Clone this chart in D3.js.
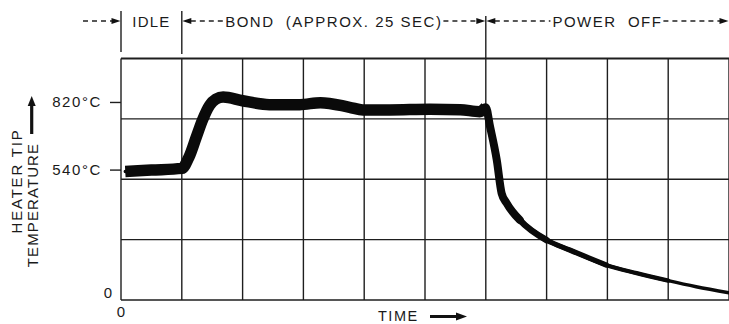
<!DOCTYPE html>
<html>
<head>
<meta charset="utf-8">
<script src="https://cdn.jsdelivr.net/npm/d3@7"></script>
<style>
  body { margin: 0; background: #fff; }
  svg { display: block; }
  text { font-family: "Liberation Sans", Arial, sans-serif; fill: #1a1a1a; }
</style>
</head>
<body>
<div class="chart"></div>
<script>
// grid divisions (seconds, degrees C)
const timeGrid = [0, 5, 10, 15, 20, 25, 30, 35, 40, 45, 50]
const tempGrid = [0, 250, 500, 750, 1000]
const tempTicks = [540, 820]

// phases along the top
const phaseNames = ['IDLE', 'BOND  (APPROX. 25 SEC)', 'POWER  OFF']
const phaseStart = [0, 5, 30]
const phaseEnd = [5, 30, 50]

// heater tip trace
const traceTime = [0.35, 2.5, 5.0, 5.6, 6.2, 6.7, 7.3, 7.8, 8.4, 10.0, 12.2, 14.7, 16.4, 18.8,
  19.9, 22.1, 25.4, 27.9, 29.5, 30.0, 30.35, 30.9, 31.3, 31.7, 32.8, 35.0, 36.9, 39.9,
  42.4, 45.0, 47.3, 50.0]
const traceTemp = [532, 538, 545, 593, 676, 745, 807, 832, 841, 825, 809, 809, 817, 798,
  787, 787, 790, 788, 780, 798, 718, 580, 442, 402, 331, 248, 207, 145,
  111, 80, 55, 30]

const W = 729, H = 324
const margin = { top: 58.5, right: 0, bottom: 24, left: 121 }

const svg = d3.select('.chart').append('svg')
  .attr('width', W)
  .attr('height', H)

const x = d3.scaleLinear().domain([0, 50]).range([margin.left, W - margin.right])
const y = d3.scaleLinear().domain([0, 1000]).range([H - margin.bottom, margin.top])

// grid
const grid = svg.append('g')
grid.selectAll('.vline')
  .data(timeGrid)
  .enter()
  .append('line')
  .attr('x1', (d) => x(d)).attr('x2', (d) => x(d))
  .attr('y1', y(1000)).attr('y2', y(0))
  .attr('stroke', '#1e1e1e')
  .attr('stroke-width', 1.4)
grid.selectAll('.hline')
  .data(tempGrid)
  .enter()
  .append('line')
  .attr('x1', x(0)).attr('x2', x(50))
  .attr('y1', (d) => y(d)).attr('y2', (d) => y(d))
  .attr('stroke', '#1e1e1e')
  .attr('stroke-width', (d) => (d === 1000 ? 2 : d === 0 ? 1.7 : 1.3))

// y axis ticks + labels
const yAxis = d3.axisLeft(y)
  .tickValues(tempTicks)
  .tickSize(11)
  .tickPadding(8)
  .tickFormat((d) => d + '°C')
const ya = svg.append('g')
  .attr('transform', `translate(${x(0)},0)`)
  .call(yAxis)
ya.select('.domain').remove()
ya.selectAll('line').attr('stroke', '#1e1e1e').attr('stroke-width', 1.4)
ya.selectAll('text')
  .attr('font-size', 15)
  .attr('letter-spacing', 1.6)
  .attr('font-family', '"Liberation Sans", Arial, sans-serif')
  .attr('fill', '#1a1a1a')

// zeros
svg.append('text')
  .attr('x', x(0) - 13).attr('y', y(0) - 2)
  .attr('text-anchor', 'middle')
  .attr('font-size', 15)
  .text('0')
svg.append('text')
  .attr('x', x(0)).attr('y', y(0) + 17)
  .attr('text-anchor', 'middle')
  .attr('font-size', 15)
  .text('0')

// y title
svg.append('text')
  .attr('transform', `translate(21.5,${181}) rotate(-90)`)
  .attr('text-anchor', 'middle')
  .attr('font-size', 15)
  .attr('letter-spacing', 1.8)
  .text('HEATER TIP')
svg.append('text')
  .attr('transform', `translate(38,${205}) rotate(-90)`)
  .attr('text-anchor', 'middle')
  .attr('font-size', 15)
  .attr('letter-spacing', 1.1)
  .text('TEMPERATURE')

const arrowHead = (g, tipX, tipY, dir, len, half) => {
  // dir: 'r', 'l', 'u'
  let p
  if (dir === 'r') p = [[tipX, tipY], [tipX - len, tipY - half], [tipX - len, tipY + half]]
  else if (dir === 'l') p = [[tipX, tipY], [tipX + len, tipY - half], [tipX + len, tipY + half]]
  else p = [[tipX, tipY], [tipX - half, tipY + len], [tipX + half, tipY + len]]
  g.append('path')
    .attr('d', d3.line()(p) + 'Z')
    .attr('fill', '#111')
}

// up arrow next to TEMPERATURE
svg.append('line')
  .attr('x1', 31.7).attr('x2', 31.7)
  .attr('y1', 134).attr('y2', 104)
  .attr('stroke', '#111').attr('stroke-width', 3.2)
arrowHead(svg, 31.7, 96, 'u', 10, 4)

// TIME label
svg.append('text')
  .attr('x', 378).attr('y', 321)
  .attr('font-size', 14.5)
  .attr('letter-spacing', 1.5)
  .text('TIME')
svg.append('line')
  .attr('x1', 430).attr('x2', 458)
  .attr('y1', 316.5).attr('y2', 316.5)
  .attr('stroke', '#111').attr('stroke-width', 3)
arrowHead(svg, 467, 316.5, 'r', 11, 4)

// phase annotations
const ann = svg.append('g')
const annY = 21
const dash = '5,4'
const aLen = 9, aHalf = 3

;[[x(0), 11, 52], [x(5), 11, 54], [x(30), 16, margin.top]].forEach(([mx, y1, y2]) => {
  ann.append('line')
    .attr('x1', mx).attr('x2', mx)
    .attr('y1', y1).attr('y2', y2)
    .attr('stroke', '#1e1e1e').attr('stroke-width', 1.4)
})

// lead in to the idle marker
ann.append('line')
  .attr('x1', x(0) - 38).attr('x2', x(0) - aLen)
  .attr('y1', annY).attr('y2', annY)
  .attr('stroke', '#222').attr('stroke-width', 1.4)
  .attr('stroke-dasharray', dash)
arrowHead(ann, x(0) - 0.5, annY, 'r', aLen, aHalf)

phaseNames.forEach((name, i) => {
  const x0 = x(phaseStart[i]), x1 = x(phaseEnd[i])
  const cx = (x0 + x1) / 2
  const t = ann.append('text')
    .attr('x', cx).attr('y', annY + 6)
    .attr('text-anchor', 'middle')
    .attr('font-size', 15)
    .attr('letter-spacing', i === 0 ? 1.2 : 1.5)
    .attr('xml:space', 'preserve')
    .style('white-space', 'pre')
    .text(name)
  if (i === 0) return
  const tw = t.node().getComputedTextLength()
  const tl = cx - tw / 2 - 2, tr = cx + tw / 2 + 1
  ann.append('line')
    .attr('x1', x0 + aLen).attr('x2', tl)
    .attr('y1', annY).attr('y2', annY)
    .attr('stroke', '#222').attr('stroke-width', 1.4)
    .attr('stroke-dasharray', dash)
  ann.append('line')
    .attr('x1', tr).attr('x2', x1 - aLen)
    .attr('y1', annY).attr('y2', annY)
    .attr('stroke', '#222').attr('stroke-width', 1.4)
    .attr('stroke-dasharray', dash)
  arrowHead(ann, x0 + 0.5, annY, 'l', aLen, aHalf)
  arrowHead(ann, x1 - 0.5, annY, 'r', aLen, aHalf)
})

// trace: thin full curve, then wider pen strokes layered over parts of it
const pts = traceTime.map((t, i) => [t, traceTemp[i]])
const line = d3.line()
  .x((d) => x(d[0]))
  .y((d) => y(d[1]))
  .curve(d3.curveMonotoneX)

const strokes = [
  { from: 0, to: 50, w: 3.4, cap: 'round' },
  { from: 30, to: 45.5, w: 4.3, cap: 'round' },
  { from: 30, to: 40.5, w: 5.2, cap: 'round' },
  { from: 30, to: 36, w: 6.4, cap: 'round' },
  { from: 29.5, to: 33, w: 8, cap: 'round' },
  { from: 0, to: 30.01, w: 11.5, cap: 'butt' }
]
const trace = svg.append('g')
  .attr('fill', 'none')
  .attr('stroke', '#0a0a0a')
  .attr('stroke-linejoin', 'round')
trace.selectAll('path')
  .data(strokes)
  .enter()
  .append('path')
  .attr('d', (s) => line(pts.filter((p) => p[0] >= s.from && p[0] <= s.to)))
  .attr('stroke-width', (s) => s.w)
  .attr('stroke-linecap', (s) => s.cap)
</script>
</body>
</html>
